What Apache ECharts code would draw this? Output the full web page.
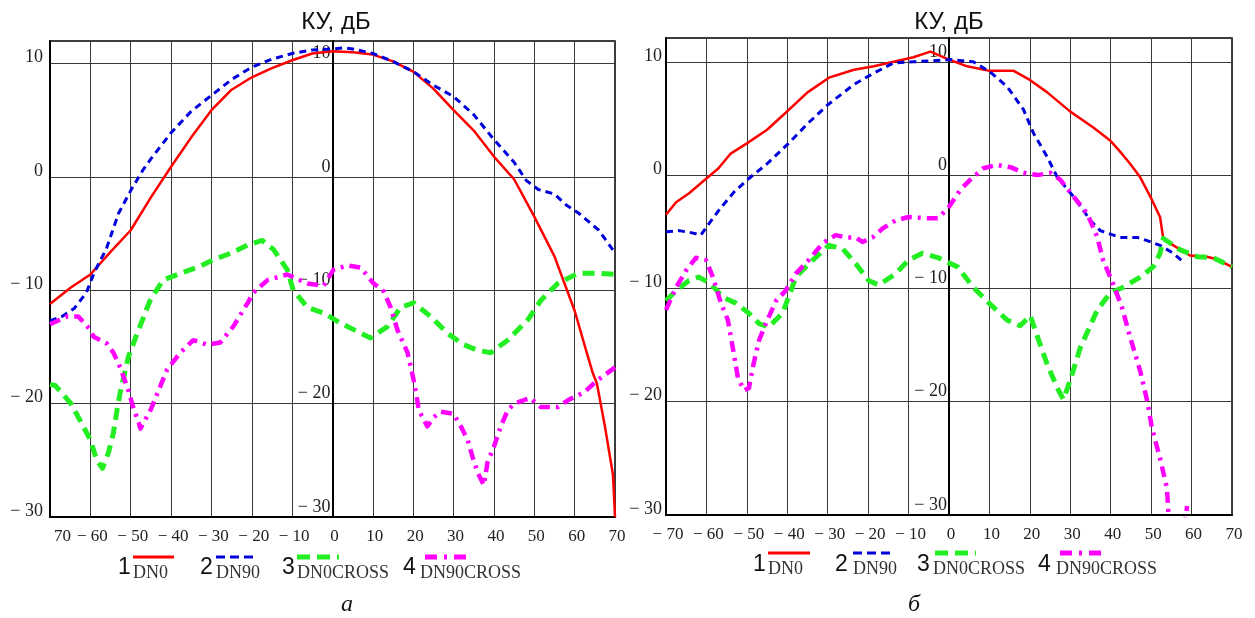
<!DOCTYPE html>
<html><head><meta charset="utf-8">
<script src="https://cdn.jsdelivr.net/npm/echarts@6.0.0/dist/echarts.min.js"></script>
<style>html,body{margin:0;padding:0;background:#fff}#c{width:1255px;height:618px}</style>
</head><body><div id="c"></div>
<script>
// ---------- data (angle in degrees, gain in dB) ----------
// Panel a
const aDn0X = [-70,-65,-60,-55,-50,-45,-40,-35,-30,-25,-20,-15,-10,-5,0,5,10,15,20,25,30,35,40,45,50,55,60,63,64.5,65.5,67.5,69.5,70];
const aDn0Y = [-11.2,-9.8,-8.6,-6.6,-4.7,-1.8,0.9,3.5,5.9,7.7,8.8,9.6,10.3,10.9,11.1,11.0,10.8,10.2,9.3,7.8,5.9,4.1,1.8,-0.2,-3.5,-7.0,-11.8,-15.5,-17.3,-18.2,-22,-26.3,-30];

const aDn90X = [-70,-67,-64,-61,-59,-56,-53,-50,-47,-45,-40,-35,-30,-25,-20,-15,-10,-5,0,3,5,10,15,20,25,30,35,40,45,48,51,55,58,61,66,70];
const aDn90Y = [-12.7,-12.3,-11.6,-10.2,-8.4,-6.3,-3.2,-1.2,0.6,1.6,3.9,5.8,7.2,8.6,9.7,10.4,10.9,11.2,11.3,11.4,11.3,10.9,10.2,9.3,8.1,7.1,5.5,3.3,1.3,-0.3,-1.1,-1.5,-2.5,-3.2,-4.7,-6.7];

const aCr0X = [-70,-68.7,-65,-62.5,-60,-58.4,-57,-55.5,-54.3,-53.4,-52.6,-50.6,-48.4,-45.2,-42,-37.7,-33,-29.5,-25,-21,-17.4,-14.6,-11.2,-9.7,-6.2,-2.2,2,6,9.4,13.6,16.9,20.1,24.3,28.5,32.5,36,39.2,43.4,48.4,51.6,55.8,60.8,65.8,70];
const aCr0Y = [-18.3,-18.4,-19.9,-21.5,-23.2,-25,-25.7,-24.3,-22.6,-20.6,-19,-15.9,-13.8,-10.9,-9.1,-8.5,-7.9,-7.3,-6.7,-6.0,-5.6,-6.4,-8.2,-10,-11.5,-12.0,-12.9,-13.6,-14.2,-13.2,-11.5,-11.1,-12.3,-13.8,-14.8,-15.3,-15.5,-14.4,-12.6,-10.9,-9.4,-8.5,-8.5,-8.6];

const aCr90X = [-70,-65.8,-63,-60,-59.2,-55.9,-54.3,-52.6,-50.6,-49.4,-48,-47.6,-45,-43.4,-41,-37.7,-34.5,-31,-27.8,-24.6,-21,-19.6,-16.1,-11.2,-6.2,-2.2,0.2,3.7,7,10.2,12.7,14.4,16.1,18.6,20.1,21,21.4,23.5,25.1,26.8,30,31.8,33.5,34.7,36,37.5,38.4,40,41.7,43.4,45,49,51.6,55.8,58.3,62.3,65.8,70];
const aCr90Y = [-13,-12.3,-12.3,-13.5,-14.1,-14.7,-15.5,-16.8,-18.8,-20.3,-21.7,-22.2,-20.5,-19.1,-17,-15.5,-14.4,-14.8,-14.6,-13.2,-11.1,-10.2,-9.1,-8.6,-9.4,-9.6,-8.2,-7.8,-8,-9.4,-10.1,-11.5,-13.5,-15.5,-17.9,-19.7,-20.6,-22,-21.2,-20.7,-20.9,-22,-23.2,-24.7,-26.1,-27.2,-25.2,-23.8,-22,-20.6,-20,-19.5,-20.3,-20.3,-19.7,-19,-17.9,-16.8];

// Panel b
const bDn0X = [-70,-67.5,-64.3,-60,-57,-54,-50,-45,-40.4,-35,-29.7,-23.5,-18.6,-13.7,-8.8,-4.6,0,4.5,10,16,20,24.3,30,35.7,40,42,44.8,47.3,49.8,52.2,53,55.5,59.6,63.8,66,70];
const bDn0Y = [-3.5,-2.4,-1.6,-0.3,0.6,1.9,2.8,4.0,5.5,7.3,8.6,9.3,9.6,10,10.4,10.9,10.2,9.6,9.2,9.2,8.4,7.3,5.6,4.2,3.0,2.2,1.0,-0.2,-1.9,-3.7,-5.6,-6.2,-7.1,-7.2,-7.4,-8.1];

const bDn90X = [-70,-66.8,-63.5,-61.4,-59.4,-56.9,-53.2,-49.5,-45,-39.7,-34.8,-30,-23.5,-18.6,-13.7,-8.8,-3.8,0.4,6,10.2,14.4,18.4,20.9,24.3,26.8,30.8,35,37.4,42.3,46.5,49.2,52.2,55.5,58.4];
const bDn90Y = [-5.0,-4.9,-5.1,-5.3,-4.3,-3.1,-1.5,-0.3,1.0,2.8,4.6,6.2,8,9,9.9,10,10.1,10.2,10,9.1,7.8,5.8,3.7,1.6,-0.2,-1.9,-4,-4.9,-5.5,-5.5,-5.8,-6.2,-6.9,-7.8];

const bCr0X = [-70,-67.5,-64.3,-61.9,-58.9,-55.9,-52.7,-49.5,-47,-44.6,-41.2,-39.7,-37.9,-33.7,-29.7,-26.3,-23.1,-19.9,-17.4,-13.2,-10,-6.6,-2.6,2.1,6,10.2,14.4,17.6,20.1,21.9,24.3,26.8,28.3,30,32.5,36.7,39.9,43.1,47.3,50.5,52.2,53,57.2,61.4,65.4,70];
const bCr0Y = [-11.1,-10.2,-9.3,-9,-9.6,-10.8,-11.3,-12.2,-13.1,-13.4,-12.2,-10.8,-9.0,-7.5,-6.2,-6.5,-7.8,-9.3,-9.7,-8.7,-7.5,-6.9,-7.3,-8.1,-9.9,-11.4,-12.8,-13.3,-12.4,-14.3,-16.7,-18.8,-19.8,-18.1,-15.2,-11.9,-10.4,-9.9,-9.0,-8.1,-6.9,-5.6,-6.6,-7.2,-7.3,-8.1];

const bCr90X = [-70,-67.5,-65,-62.6,-60.1,-58.4,-56.4,-54.7,-53.5,-52.2,-50.7,-49.5,-48.3,-47,-45.3,-42.8,-40.4,-37.9,-34.7,-31.2,-28,-25.6,-23.1,-21.4,-18.9,-16.4,-13.2,-10,-5.8,-2.6,0,2.8,5.3,8.5,11.9,15.2,18.4,21.9,25.1,27.5,30.8,34.2,36.7,38.1,40.6,42.8,44.8,47.3,49,50.2,52.2,53.9,54.3,55.5,57.5,58.9];
const bCr90Y = [-11.9,-9.9,-8.4,-7.3,-7.5,-9,-11.3,-12.8,-15.2,-17.9,-19,-18.8,-16.6,-14.6,-13.1,-11.1,-10.2,-8.7,-7.5,-6.0,-5.3,-5.5,-5.5,-5.9,-5.5,-4.7,-4.0,-3.7,-3.8,-3.8,-2.8,-1.3,-0.4,0.6,0.9,0.7,0.2,0,0.2,-0.4,-1.9,-3.4,-5.5,-7.5,-9.6,-11.7,-14.3,-17.3,-19.9,-22.3,-25,-27.6,-29.9,-33,-33,-29.2];

const yTicks = [-30,-20,-10,0,10];
const seriesNames = ['DN0','DN90','DN0CROSS','DN90CROSS'];
const seriesNums = ['1','2','3','4'];
const panelTitle = 'КУ, дБ';
const captions = ['а','б'];

// ---------- styles ----------
const SERIF = '"Liberation Serif","Times New Roman",serif';
const SANS = '"Liberation Sans",Arial,sans-serif';
const COLORS = ['#ff0000','#0000dd','#22ee22','#ff00ff'];
const WIDTHS = [2.5,3,5,4.5];
const DASHES = ['solid',[7,5],[12,7],[11,6,3,6]];
const LEGEND_DASHES = ['solid',[9,5],[13,7,13,7,3,7],[12,7,3,7]];

function neg(v){ return v < 0 ? '\u2212 ' + (-v) : String(v); }
function fmtY(v){ return yTicks.indexOf(v) >= 0 ? neg(v) : ''; }
function pairs(xs, ys){ return xs.map((x,i)=>[x, ys[i]]); }

const GRIDS = [
  {left:50, top:41, width:565, height:476},
  {left:666, top:38, width:566, height:477}
];

function mkX(gi, leftPanel){
  return {type:'value', gridIndex:gi, min:-70, max:70, interval:10,
    axisLine:{show:true, onZero:false, lineStyle:{color:'#000', width:2}},
    axisTick:{show:false},
    splitLine:{show:true, lineStyle:{color:'#3a3a3a', width:1}},
    axisLabel:{fontFamily:SERIF, fontSize:17, color:'#222', margin:11, lineHeight:18, padding:[0,0,0,4],
      showMinLabel:true, showMaxLabel:true, alignMinLabel: leftPanel ? 'left' : 'center',
      formatter:(v)=> (leftPanel && v === -70) ? '70' : neg(v)}
  };
}
function mkY(gi, max, margin){
  return {type:'value', gridIndex:gi, min:-30, max:max, interval:10, position:'left',
    axisLine:{show:true, onZero:false, lineStyle:{color:'#000', width:2}},
    axisTick:{show:false},
    splitLine:{show:true, lineStyle:{color:'#3a3a3a', width:1}},
    axisLabel:{fontFamily:SERIF, fontSize:18, color:'#222', margin:margin, verticalAlign:'bottom', lineHeight:12,
      showMinLabel:true, formatter:fmtY}
  };
}
function mkY0(gi, max){
  return {type:'value', gridIndex:gi, min:-30, max:max, interval:10, position:'left',
    offset:-GRIDS[gi].width/2,
    axisLine:{show:true, onZero:false, lineStyle:{color:'#000', width:2}},
    axisTick:{show:false}, splitLine:{show:false},
    axisLabel:{fontFamily:SERIF, fontSize:18, color:'#222', margin:2, verticalAlign:'bottom', lineHeight:20,
      showMinLabel:true, formatter:fmtY}
  };
}
function mkS(gi, k, xs, ys){
  return {type:'line', name:seriesNames[k], xAxisIndex:gi, yAxisIndex:gi*2, data:pairs(xs, ys),
    showSymbol:false, symbol:'none', clip:true, z:2+k,
    lineStyle:{color:COLORS[k], width:WIDTHS[k], type:DASHES[k], cap:'butt', join:'round'}};
}

// legend / titles as graphic elements
const graphics = [];
function legend(items, lineY, numY, labY){
  items.forEach((it,k)=>{
    graphics.push({type:'text', left:it.n, top:numY-13, style:{text:seriesNums[k], font:'23px '+SANS, fill:'#111'}});
    graphics.push({type:'line', shape:{x1:it.l0, y1:lineY, x2:it.l1, y2:lineY},
      style:{stroke:COLORS[k], lineWidth:k<2?3:5, lineDash:LEGEND_DASHES[k]==='solid'?null:LEGEND_DASHES[k]}});
    graphics.push({type:'text', left:it.t, top:labY-9, style:{text:seriesNames[k], font:'18px '+SERIF, fill:'#333'}});
  });
}
legend([{n:118,l0:133,l1:174,t:133},{n:200,l0:216,l1:257,t:216},{n:282,l0:297,l1:339,t:297},{n:403,l0:425,l1:466,t:420}], 557, 569, 573);
legend([{n:753,l0:768,l1:810,t:768},{n:835,l0:853,l1:894,t:853},{n:917,l0:935,l1:976,t:933},{n:1038,l0:1060,l1:1101,t:1056}], 553, 566, 569);
graphics.push({type:'text', x:336, y:22, style:{text:panelTitle, font:'24px '+SANS, fill:'#111', align:'center', verticalAlign:'middle'}});
graphics.push({type:'text', x:949, y:22, style:{text:panelTitle, font:'24px '+SANS, fill:'#111', align:'center', verticalAlign:'middle'}});
graphics.push({type:'text', x:347, y:605, style:{text:captions[0], font:'italic 24px '+SERIF, fill:'#111', align:'center', verticalAlign:'middle'}});
graphics.push({type:'text', x:914, y:605, style:{text:captions[1], font:'italic 24px '+SERIF, fill:'#111', align:'center', verticalAlign:'middle'}});

const chart = echarts.init(document.getElementById('c'), null, {renderer:'canvas'});
chart.setOption({
  animation:false,
  backgroundColor:'#fff',
  grid:GRIDS.map(g=>Object.assign({show:true, borderColor:'#000', borderWidth:1.5, backgroundColor:'transparent', containLabel:false}, g)),
  xAxis:[mkX(0,true), mkX(1,false)],
  yAxis:[mkY(0,12,7), mkY0(0,12), mkY(1,12.1,4), mkY0(1,12.1)],
  series:[
    mkS(0,0,aDn0X,aDn0Y), mkS(0,1,aDn90X,aDn90Y), mkS(0,2,aCr0X,aCr0Y), mkS(0,3,aCr90X,aCr90Y),
    mkS(1,0,bDn0X,bDn0Y), mkS(1,1,bDn90X,bDn90Y), mkS(1,2,bCr0X,bCr0Y), mkS(1,3,bCr90X,bCr90Y)
  ],
  graphic:graphics
});
</script></body></html>
